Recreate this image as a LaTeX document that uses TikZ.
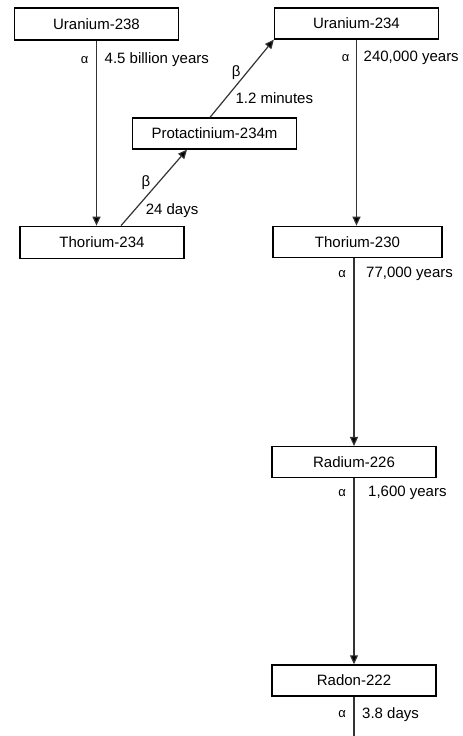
\documentclass[tikz,border=0pt]{standalone}
\usepackage{fontspec}
\setmainfont{Liberation Sans}
\usetikzlibrary{arrows.meta, positioning}

\begin{document}
\begin{tikzpicture}[
        x=1pt, y=-1pt,
        font=\fontsize{15}{17}\selectfont,
        node distance=186pt,
        nuclide/.style={
            draw,
            line width=1.3pt,
            minimum width=164pt,
            minimum height=31pt,
            inner sep=2pt,
            fill=white
        },
        decay/.style={
            -{Triangle[length=9pt, width=8pt, fill=black]},
            line width=1.2pt,
            draw=black!80
        },
        tail/.style={
            line width=1.2pt,
            draw=black!80
        },
        modelbl/.style={
            anchor=east,
            inner sep=0pt,
            font=\fontsize{13}{15}\selectfont
        },
        lifelbl/.style={
            anchor=west,
            inner sep=0pt
        },
        diaglbl/.style={
            inner sep=0pt
        }
    ]

    \useasboundingbox (0,0) rectangle (463,736);

    % top row and the side branch
    \node[nuclide, minimum height=32pt] (u238) at (96.5,24) {Uranium-238};
    \node[nuclide, below=185pt of u238, xshift=5.5pt, minimum height=32pt] (th234) {Thorium-234};
    \node[nuclide] (pa234) at (214.5,133.5) {Protactinium-234m};
    \node[nuclide] (u234) at (356.5,23.5) {Uranium-234};

    % main chain
    \node[nuclide, below=of u234, minimum width=169pt, xshift=1pt] (th230) {Thorium-230};
    \node[nuclide, below=188pt of th230, xshift=-3.5pt] (ra226) {Radium-226};
    \node[nuclide, below=of ra226] (rn222) {Radon-222};
    \coordinate (bottom) at (rn222.south |- 0,736);

    % alpha decays
    \draw[decay] (u238.south) -- (u238.south |- th234.north);
    \node[modelbl] (a238) at ([shift={(-8pt,-19pt)}]u238.south) {α};
    \node[lifelbl] (t238) at ([shift={(8pt,-19pt)}]u238.south) {4.5 billion years};

    \draw[decay] (u234.south) -- (u234.south |- th230.north);
    \node[modelbl] (a234) at ([shift={(-7pt,-18pt)}]u234.south) {α};
    \node[lifelbl] (t234) at ([shift={(7pt,-18pt)}]u234.south) {240,000 years};

    \draw[decay] (ra226.north |- th230.south) -- (ra226.north);
    \node[modelbl] (a230) at ([shift={(-8pt,-16pt)}]ra226.north |- th230.south) {α};
    \node[lifelbl] (t230) at ([shift={(12pt,-16pt)}]ra226.north |- th230.south) {77,000 years};

    \draw[decay] (ra226.south) -- (ra226.south |- rn222.north);
    \node[modelbl] (a226) at ([shift={(-8pt,-15pt)}]ra226.south) {α};
    \node[lifelbl] (t226) at ([shift={(14pt,-15pt)}]ra226.south) {1,600 years};

    \draw[tail] (rn222.south) -- (bottom);
    \node[modelbl] (a222) at ([shift={(-8pt,-18pt)}]rn222.south) {α};
    \node[lifelbl] (t222) at ([shift={(8pt,-18pt)}]rn222.south) {3.8 days};

    % beta decays
    \draw[decay] ([xshift=19pt]th234.north) -- ([xshift=-27.5pt]pa234.south)
        node[diaglbl, pos=0.56, left=7pt] (b234) {β}
        node[diaglbl, pos=0.2, right=11pt] (d234) {24 days};
    \draw[decay] ([xshift=-4.5pt]pa234.north) -- (u234.south west)
        node[diaglbl, pos=0.58, left=6pt] (b234m) {β}
        node[diaglbl, pos=0.25, right=9pt] (d234m) {1.2 minutes};

\end{tikzpicture}
\end{document}
